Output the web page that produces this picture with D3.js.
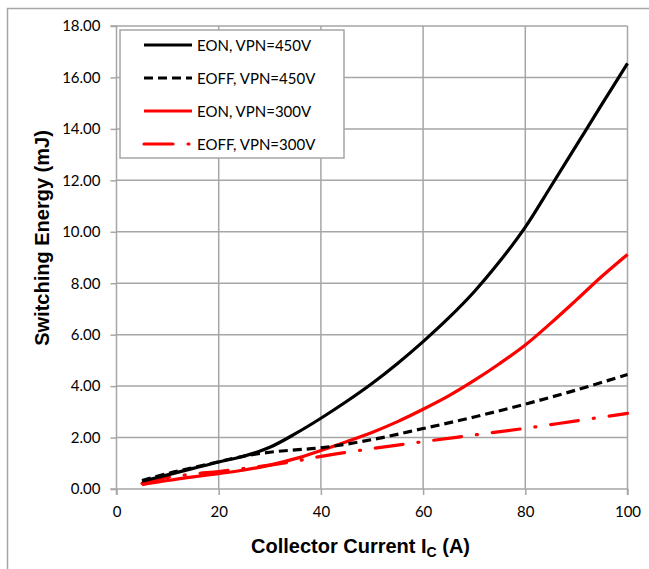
<!DOCTYPE html>
<html>
<head>
<meta charset="utf-8">
<script src="https://cdn.jsdelivr.net/npm/d3@7"></script>
<style>
  html, body { margin: 0; padding: 0; background: #fff; }
  svg { display: block; }
</style>
</head>
<body>
<svg id="chart" width="649" height="569"></svg>
<script>
// ---- data ----
const xTicks = [0, 20, 40, 60, 80, 100];
const yTicks = [0, 2, 4, 6, 8, 10, 12, 14, 16, 18];

const eon450X  = [5, 10, 15, 20, 25, 30, 35, 40, 45, 50, 55, 60, 65, 70, 75, 80, 85, 90, 95, 100];
const eon450Y  = [0.3, 0.55, 0.8, 1.05, 1.28, 1.62, 2.15, 2.75, 3.4, 4.1, 4.88, 5.73, 6.65, 7.67, 8.85, 10.18, 11.76, 13.36, 14.96, 16.55];

const eoff450X = [5, 10, 15, 20, 25, 30, 35, 40, 50, 60, 70, 80, 90, 100];
const eoff450Y = [0.33, 0.6, 0.83, 1.06, 1.28, 1.43, 1.52, 1.6, 1.92, 2.35, 2.8, 3.3, 3.85, 4.45];

const eon300X  = [5, 10, 15, 20, 25, 30, 35, 40, 45, 50, 55, 60, 65, 70, 75, 80, 85, 90, 95, 100];
const eon300Y  = [0.17, 0.33, 0.47, 0.6, 0.74, 0.93, 1.18, 1.5, 1.84, 2.2, 2.62, 3.1, 3.62, 4.22, 4.88, 5.6, 6.45, 7.35, 8.27, 9.12];

const eoff300X = [5, 10, 15, 20, 25, 30, 35, 40, 50, 60, 70, 80, 90, 100];
const eoff300Y = [0.22, 0.45, 0.58, 0.68, 0.8, 0.93, 1.08, 1.27, 1.57, 1.84, 2.1, 2.36, 2.65, 2.94];

const seriesNames = ["EON, VPN=450V", "EOFF, VPN=450V", "EON, VPN=300V", "EOFF, VPN=300V"];

// ---- chart ----
(function () {
const svg = d3.select("#chart");
const pLeft = 116.5, pRight = 627.5, pTop = 26, pBottom = 489;
const x = d3.scaleLinear().domain([0, 100]).range([pLeft, pRight]);
const y = d3.scaleLinear().domain([0, 18]).range([pBottom, pTop]);

// outer frame
svg.append("path").attr("d", "M7.5,569 L7.5,8.5 L649,8.5")
  .attr("fill", "none").attr("stroke", "#a6a6a6").attr("stroke-width", 1.5);

// gridlines
const grid = svg.append("g");
grid.selectAll("line.h").data(yTicks.filter(d => d > 0)).join("line")
  .attr("x1", pLeft).attr("x2", pRight)
  .attr("y1", d => y(d)).attr("y2", d => y(d))
  .attr("stroke", "#a6a6a6").attr("stroke-width", 1.5);
grid.selectAll("line.v").data(xTicks.filter(d => d > 0)).join("line")
  .attr("x1", d => x(d)).attr("x2", d => x(d))
  .attr("y1", pTop).attr("y2", pBottom)
  .attr("stroke", "#a6a6a6").attr("stroke-width", 1.5);

// axes
const fontTick = "Lato, 'Open Sans', sans-serif";
const yAxis = svg.append("g").attr("transform", `translate(${pLeft},0)`)
  .call(d3.axisLeft(y).tickValues(yTicks).tickFormat(d3.format(".2f")).tickSize(6).tickPadding(10));
const xAxis = svg.append("g").attr("transform", `translate(0,${pBottom})`)
  .call(d3.axisBottom(x).tickValues(xTicks).tickSize(6).tickPadding(11));
[yAxis, xAxis].forEach(a => {
  a.select(".domain").attr("stroke", "#a6a6a6").attr("stroke-width", 1.5);
  a.selectAll(".tick line").attr("stroke", "#a6a6a6").attr("stroke-width", 1.5);
  a.selectAll("text").attr("font-family", fontTick).attr("font-size", 15).attr("fill", "#000");
});
xAxis.select(".domain").attr("d", `M${pLeft},6V0H${pRight}V6`);
yAxis.select(".domain").attr("d", `M-6,${pTop}H0V${pBottom}H-6`);

// lines
const line = d3.line().x(d => x(d[0])).y(d => y(d[1])).curve(d3.curveCatmullRom.alpha(0.5));
const zip = (xs, ys) => xs.map((v, i) => [v, ys[i]]);
const styles = [
  { color: "#000", dash: null, cap: "butt" },
  { color: "#000", dash: "9 5", cap: "butt" },
  { color: "#ff0000", dash: null, cap: "butt" },
  { color: "#ff0000", dash: "28 15 1 15", cap: "round" }
];
const seriesData = [zip(eon450X, eon450Y), zip(eoff450X, eoff450Y), zip(eon300X, eon300Y), zip(eoff300X, eoff300Y)];
[3, 2, 1, 0].forEach(i => {
  svg.append("path").datum(seriesData[i])
    .attr("d", line)
    .attr("fill", "none")
    .attr("stroke", styles[i].color)
    .attr("stroke-width", 3.2)
    .attr("stroke-linecap", styles[i].cap)
    .attr("stroke-dasharray", styles[i].dash);
});

// legend
const lg = svg.append("g");
lg.append("rect").attr("x", 120).attr("y", 30).attr("width", 224).attr("height", 128)
  .attr("fill", "#fff").attr("stroke", "#a6a6a6").attr("stroke-width", 1.5);
const rowY = [45, 78, 111, 144];
seriesNames.forEach((name, i) => {
  lg.append("line").attr("x1", 144).attr("x2", 192)
    .attr("y1", rowY[i]).attr("y2", rowY[i])
    .attr("stroke", styles[i].color).attr("stroke-width", 3.2)
    .attr("stroke-linecap", styles[i].cap)
    .attr("stroke-dasharray", i === 1 ? "9 5" : (i === 3 ? "29 15 1 15" : null));
  lg.append("text").attr("x", 197).attr("y", rowY[i] + 5.5)
    .attr("font-family", fontTick).attr("font-size", 15).attr("fill", "#000")
    .text(name);
});

// axis titles
const xt = svg.append("text").attr("x", (249 + 472) / 2).attr("y", 553)
  .attr("text-anchor", "middle").attr("font-family", "'Liberation Sans', Arial, sans-serif")
  .attr("font-weight", "bold").attr("font-size", 20).attr("fill", "#000");
xt.append("tspan").text("Collector Current I");
xt.append("tspan").attr("font-size", 14).attr("dy", 4).text("C");
xt.append("tspan").attr("dy", -4).text(" (A)");

svg.append("text").attr("transform", "translate(49,238) rotate(-90)")
  .attr("text-anchor", "middle").attr("font-family", "'Liberation Sans', Arial, sans-serif")
  .attr("font-weight", "bold").attr("font-size", 20).attr("fill", "#000")
  .text("Switching Energy (mJ)");
})();
</script>
</body>
</html>
